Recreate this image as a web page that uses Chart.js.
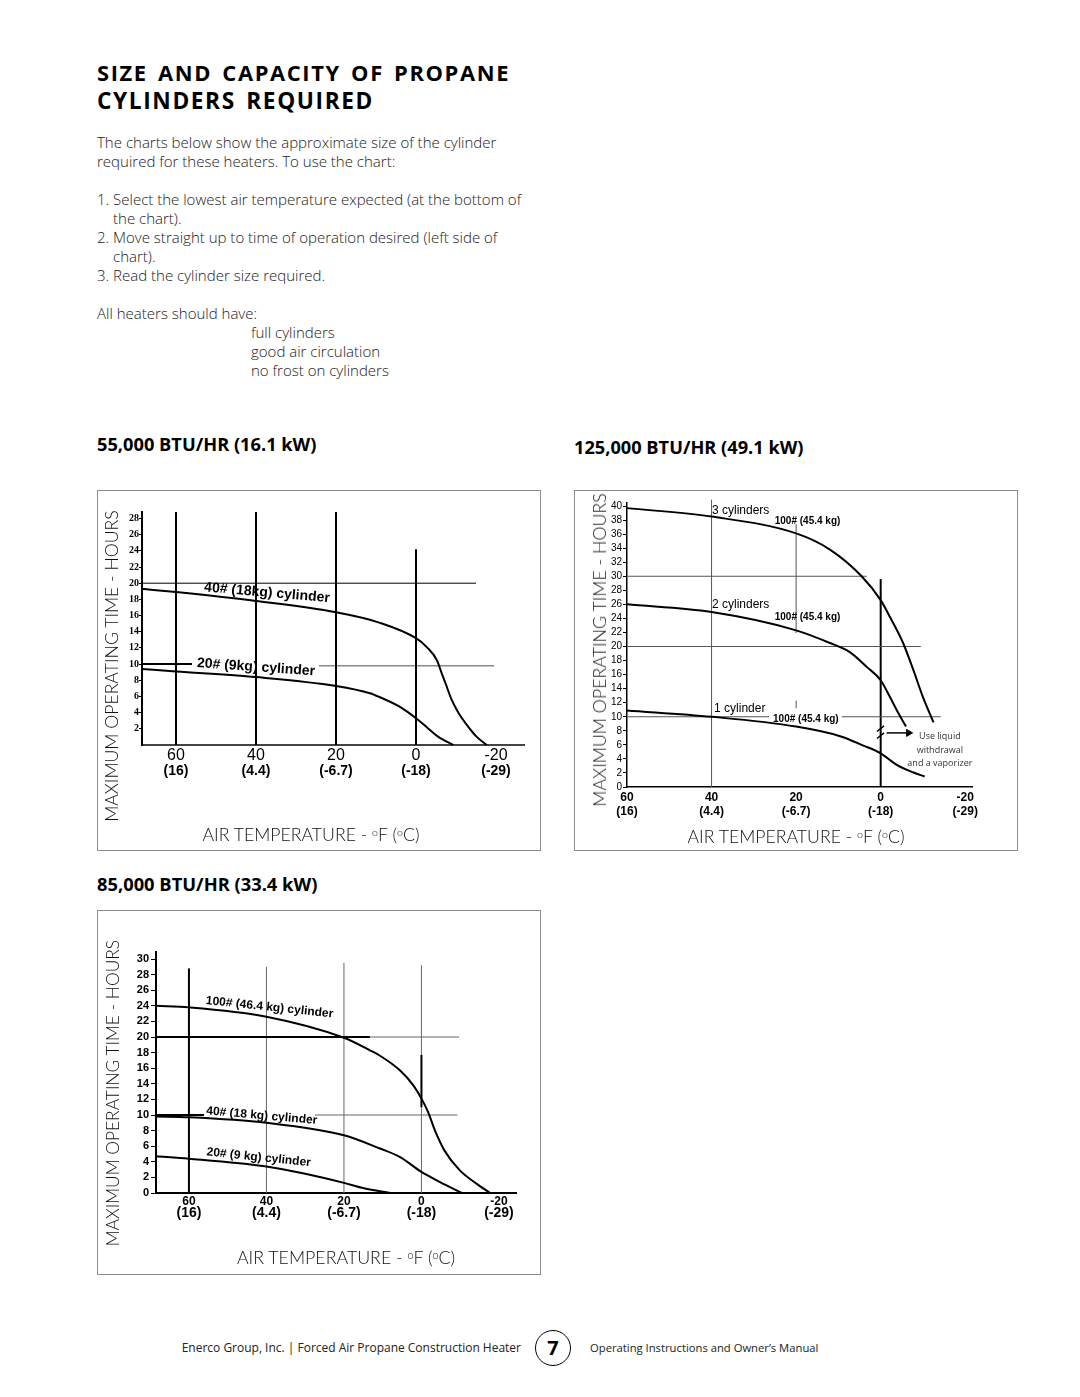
<!DOCTYPE html>
<html><head><meta charset="utf-8">
<script src="https://cdn.jsdelivr.net/npm/chart.js@4.4.1/dist/chart.umd.min.js"></script>
<style>
html,body{margin:0;padding:0;background:#fff;}
body{width:1080px;height:1397px;position:relative;overflow:hidden;font-family:'Open Sans',sans-serif;color:#231f20;}
.t{position:absolute;white-space:nowrap;}
.title{left:97px;font-weight:700;font-size:21px;line-height:28px;letter-spacing:1.6px;word-spacing:3px;color:#000;}
.body{font-size:13px;line-height:19px;font-weight:300;color:#1a1a1a;}
.hdr{font-weight:700;font-size:16px;line-height:22px;color:#000;}
.box{position:absolute;border:1px solid #8c8c8c;box-sizing:border-box;}
.box canvas{position:absolute;left:0;top:0;}
.ytl{position:absolute;font-family:Lato,'Open Sans',sans-serif;font-weight:300;font-size:20px;line-height:24px;white-space:nowrap;color:#111;transform:translate(-50%,-50%) rotate(-90deg);}
.xtl{position:absolute;font-family:Lato,'Open Sans',sans-serif;font-weight:300;font-size:20px;line-height:24px;white-space:nowrap;color:#111;transform:translate(-50%,-50%);}
.xtl sup{font-size:60%;vertical-align:0.5em;line-height:0;}
.foot{font-size:11px;line-height:16px;color:#222;}
.circ{position:absolute;left:535px;top:1330px;width:36px;height:36px;border:1.3px solid #000;border-radius:50%;box-sizing:border-box;text-align:center;font-weight:700;font-size:20px;line-height:34px;color:#000;}
</style></head>
<body>
<div class="t title" style="top:59px" data-fs="416">SIZE AND CAPACITY OF PROPANE</div>
<div class="t title" style="top:87px" data-fs="280">CYLINDERS REQUIRED</div>

<div class="t body" id="bodyRef" style="left:97px;top:133px">The charts below show the approximate size of the cylinder</div>
<div class="t body" style="left:97px;top:152px">required for these heaters. To use the chart:</div>
<div class="t body" style="left:97px;top:190px">1. Select the lowest air temperature expected (at the bottom of</div>
<div class="t body" style="left:113px;top:209px">the chart).</div>
<div class="t body" style="left:97px;top:228px">2. Move straight up to time of operation desired (left side of</div>
<div class="t body" style="left:113px;top:247px">chart).</div>
<div class="t body" style="left:97px;top:266px">3. Read the cylinder size required.</div>
<div class="t body" style="left:97px;top:304px">All heaters should have:</div>
<div class="t body" style="left:251px;top:323px">full cylinders</div>
<div class="t body" style="left:251px;top:342px">good air circulation</div>
<div class="t body" style="left:251px;top:361px">no frost on cylinders</div>

<div class="t hdr" style="left:97px;top:433px" data-fs="220">55,000 BTU/HR (16.1 kW)</div>
<div class="t hdr" style="left:574px;top:436px" data-fs="230">125,000 BTU/HR (49.1 kW)</div>
<div class="t hdr" style="left:97px;top:873px" data-fs="221">85,000 BTU/HR (33.4 kW)</div>

<div class="box" style="left:97px;top:490px;width:444px;height:361px"><canvas id="c1" width="442" height="359"></canvas></div>
<div class="box" style="left:574px;top:490px;width:444px;height:361px"><canvas id="c2" width="442" height="359"></canvas></div>
<div class="box" style="left:97px;top:910px;width:444px;height:365px"><canvas id="c3" width="442" height="363"></canvas></div>

<div class="ytl" style="left:112px;top:666px" data-fs="312">MAXIMUM OPERATING TIME - HOURS</div>
<div class="ytl" style="left:599px;top:650px" data-fs="314">MAXIMUM OPERATING TIME - HOURS</div>
<div class="ytl" style="left:113px;top:1093px" data-fs="307">MAXIMUM OPERATING TIME - HOURS</div>
<div class="xtl" style="left:311px;top:835px" data-fs="217">AIR TEMPERATURE - <sup>o</sup>F (<sup>o</sup>C)</div>
<div class="xtl" style="left:796px;top:837px" data-fs="217">AIR TEMPERATURE - <sup>o</sup>F (<sup>o</sup>C)</div>
<div class="xtl" style="left:346px;top:1257px" data-fs="218">AIR TEMPERATURE - <sup>o</sup>F (<sup>o</sup>C)</div>

<div class="t foot" style="right:559px;top:1340px" data-fs="339">Enerco Group, Inc. | Forced Air Propane Construction Heater</div>
<div class="circ">7</div>
<div class="t foot" style="left:590px;top:1340px" data-fs="228">Operating Instructions and Owner’s Manual</div>

<script>
// ---------- shared axis ticks ----------
const xTicksF = [60, 40, 20, 0, -20];
const xLabelsF = ['60', '40', '20', '0', '-20'];
const xLabelsC = ['(16)', '(4.4)', '(-6.7)', '(-18)', '(-29)'];
const yTicks1 = [2, 4, 6, 8, 10, 12, 14, 16, 18, 20, 22, 24, 26, 28];
const yTicks2 = [0, 2, 4, 6, 8, 10, 12, 14, 16, 18, 20, 22, 24, 26, 28, 30, 32, 34, 36, 38, 40];
const yTicks3 = [0, 2, 4, 6, 8, 10, 12, 14, 16, 18, 20, 22, 24, 26, 28, 30];

// ---------- 55,000 BTU/HR ----------
const c1TempF40 = [68.5, 60, 40, 20, 9, 0, -2.7, -5.2, -6.4, -7.7, -8.9, -10.6, -12.7, -15.2, -17.7];
const c1Hours40 = [19.3, 18.9, 17.8, 16.4, 15.1, 13.2, 12.1, 10.5, 8.9, 7.2, 5.6, 4.0, 2.5, 1.0, 0];
const c1TempF20 = [68.5, 60, 40, 20, 11.5, 9, 4, 0, -2.7, -5.6, -9.3];
const c1Hours20 = [9.4, 9.1, 8.4, 7.3, 6.4, 5.9, 4.7, 3.3, 2.2, 1.0, 0];
const c1GuideDark = [[60, 0, 60, 28.8], [40, 0, 40, 28.8], [20, 0, 20, 28.8], [0, 0, 0, 24.2], [68.5, 10, 56, 10]];
const c1GuideThin = [[68.5, 20, -15, 20]];
const c1GuideGray = [[24.25, 9.8, -19.5, 9.8]];
const c1LabelText = ['40# (18kg) cylinder', '20# (9kg) cylinder'];
const c1LabelF = [37.25, 40];
const c1LabelH = [18.8, 9.6];

// ---------- 125,000 BTU/HR ----------
const c2TempF3 = [60, 40, 20, 12, 4.5, 0, -2.2, -5.3, -7.7, -10, -12.5];
const c2Hours3 = [39.7, 38.5, 36.1, 33.8, 30.0, 26.6, 24.2, 20.5, 16.7, 12.8, 9.2];
const c2TempF2 = [60, 40, 20, 12, 7.3, 3.3, 0, -2.2, -4.1, -6.0];
const c2Hours2 = [26.0, 24.9, 22.3, 20.5, 19.2, 17.1, 15.2, 12.8, 10.6, 8.6];
const c2TempF1 = [60, 40, 20, 9.4, 4.1, 0, -3.7, -7.6, -10.4];
const c2Hours1 = [10.9, 10.0, 8.6, 7.2, 5.9, 4.8, 3.2, 2.1, 1.5];
const c2GuideGray = [[40, 0, 40, 40.9], [20, 21.9, 20, 37.4], [20, 11.2, 20, 12.3], [60, 30, 3.3, 30], [60, 20, -9.5, 20], [60, 10, 26.4, 10], [9.2, 10, -14.2, 10]];
const c2GuideDark = [[0, 0, 0, 29.6]];
const c2Arrow = [[-1.4, 7.7, -6.4, 7.7], [0.9, 7.9, -0.8, 8.7], [0.9, 6.9, -0.8, 7.7]];
const c2ArrowTip = [[-6.6, 7.7]];
const c2LabelText = ['3 cylinders', '2 cylinders', '1 cylinder'];
const c2LabelF = [39.9, 39.9, 39.4];
const c2LabelH = [39.4, 25.9, 11.1];
const c2SizeText = ['100# (45.4 kg)', '100# (45.4 kg)', '100# (45.4 kg)'];
const c2SizeF = [17.3, 17.3, 17.7];
const c2SizeH = [37.9, 24.2, 9.7];
const c2NoteText = ['Use liquid', 'withdrawal', 'and a vaporizer'];
const c2NoteF = [-14.0, -14.0, -14.0];
const c2NoteH = [7.2, 5.2, 3.3];

// ---------- 85,000 BTU/HR ----------
const c3TempF100 = [68.5, 60, 40, 20, 13.3, 10.7, 5.5, 2.1, 0, -1.7, -3.5, -6.0, -9.9, -14.2, -17.7];
const c3Hours100 = [24.0, 23.8, 22.6, 19.9, 18.3, 17.6, 15.7, 13.8, 12.1, 10.4, 8.0, 5.4, 2.9, 1.2, 0];
const c3TempF40 = [68.5, 60, 40, 20, 10.7, 5.5, 0, -4.8, -10.4];
const c3Hours40 = [9.8, 9.7, 9.0, 7.4, 5.7, 4.6, 2.7, 1.4, 0];
const c3TempF20 = [68.5, 60, 40, 30.3, 20, 14.8, 8.1];
const c3Hours20 = [4.7, 4.4, 3.4, 2.5, 1.3, 0.6, 0];
const c3GuideDark = [[60, 0, 60, 28.8], [68.5, 20, 13.3, 20], [68.5, 10, 56.1, 10], [0, 11, 0, 17.7]];
const c3GuideGray = [[40, 0, 40, 29.0], [20, 0, 20, 29.5], [0, 0, 0, 29.2], [13.3, 20, -9.7, 20], [27.5, 10, -9.3, 10]];
const c3LabelText = ['100# (46.4 kg) cylinder', '40# (18 kg) cylinder', '20# (9 kg) cylinder'];
const c3LabelF = [39.2, 41.2, 42];
const c3LabelH = [23.8, 9.9, 4.55];

// ---------- helpers ----------
const pts = (xs, ys) => xs.map((v, i) => ({x: v, y: ys[i]}));
const curve = (xs, ys) => ({data: pts(xs, ys), showLine: true, borderColor: '#000', borderWidth: 2, pointRadius: 0,
  cubicInterpolationMode: 'monotone', clip: false, order: 0});
const segs = (list, color, width) => list.map(s => ({data: [{x: s[0], y: s[1]}, {x: s[2], y: s[3]}], showLine: true,
  borderColor: color, borderWidth: width, pointRadius: 0, tension: 0, clip: false, order: 2}));

const textPlugin = {
  id: 'texts',
  afterDatasetsDraw(chart, args, opts) {
    const {ctx} = chart; const xs = chart.scales.x, ys = chart.scales.y;
    (opts.groups || []).forEach(g => {
      g.text.forEach((t, i) => {
        ctx.save();
        ctx.translate(xs.getPixelForValue(g.f[i]), ys.getPixelForValue(g.h[i]));
        ctx.rotate((g.rot ? g.rot[i] : 0) * Math.PI / 180);
        ctx.font = g.font; ctx.fillStyle = g.color || '#000';
        ctx.textAlign = g.align || 'center'; ctx.textBaseline = 'middle';
        ctx.fillText(t, 0, 0);
        ctx.restore();
      });
    });
  }
};

function makeChart(id, o) {
  const setX = s => { s.ticks = xTicksF.map(v => ({value: v})); };
  return new Chart(document.getElementById(id), {
    type: 'scatter',
    data: {datasets: o.datasets},
    plugins: [textPlugin],
    options: {
      responsive: false, animation: false, events: [],
      layout: {padding: o.pad},
      plugins: {legend: {display: false}, tooltip: {enabled: false}, texts: {groups: o.texts}},
      scales: {
        x: {type: 'linear', reverse: true, min: o.xmin, max: o.xmax, position: 'bottom', weight: 0,
          afterBuildTicks: setX,
          ticks: {callback: (v, i) => xLabelsF[i], font: o.fFont, color: '#000', padding: o.fPad, autoSkip: false, maxRotation: 0},
          grid: {display: false, drawTicks: false},
          border: {display: true, color: o.xBorder, width: o.axisW},
          afterFit: s => { s.height = o.h1; }},
        x2: {type: 'linear', reverse: true, min: o.xmin, max: o.xmax, position: 'bottom', weight: 1,
          afterBuildTicks: setX,
          ticks: {callback: (v, i) => xLabelsC[i], font: o.cFont, color: '#000', padding: 0, autoSkip: false, maxRotation: 0},
          grid: {display: false, drawTicks: false}, border: {display: false},
          afterFit: s => { s.height = o.h2; }},
        y: {type: 'linear', min: 0, max: o.ymax, position: 'left',
          afterBuildTicks: s => { s.ticks = o.yTicks.map(v => ({value: v})); },
          ticks: {font: o.yFont, color: '#000', padding: o.yPad, autoSkip: false},
          grid: {drawOnChartArea: false, drawTicks: true, tickLength: o.tickLen, color: '#000', lineWidth: 1},
          border: {display: true, color: '#000', width: o.axisW},
          afterFit: s => { s.width = o.yw; }}
      }
    }
  });
}

makeChart('c1', {
  xmin: -27, xmax: 68.5, ymax: 28.8, yTicks: yTicks1,
  pad: {left: 0, right: 16, top: 21, bottom: 67}, yw: 44, h1: 18, h2: 20,
  fFont: {family: 'Liberation Sans', size: 16}, fPad: 1,
  cFont: {family: 'Liberation Sans', size: 14, weight: 'bold'},
  yFont: {family: 'Liberation Serif', size: 10, weight: 'bold'}, yPad: 0, tickLen: 3,
  axisW: 2, xBorder: '#444',
  datasets: [curve(c1TempF40, c1Hours40), curve(c1TempF20, c1Hours20),
    ...segs(c1GuideDark, '#000', 2), ...segs(c1GuideThin, '#000', 1), ...segs(c1GuideGray, '#888', 1.5)],
  texts: [{text: c1LabelText, f: c1LabelF, h: c1LabelH, rot: [5, 4], font: 'bold 14px "Liberation Sans"'}]
});

makeChart('c2', {
  xmin: -21.6, xmax: 60, ymax: 40.43, yTicks: yTicks2,
  pad: {left: 0, right: 45, top: 12, bottom: 28}, yw: 52, h1: 17, h2: 18,
  fFont: {family: 'Liberation Sans', size: 12, weight: 'bold'}, fPad: 3,
  cFont: {family: 'Liberation Sans', size: 12, weight: 'bold'},
  yFont: {family: 'Liberation Sans', size: 10}, yPad: 1, tickLen: 4,
  axisW: 1.5, xBorder: '#000',
  datasets: [curve(c2TempF3, c2Hours3), curve(c2TempF2, c2Hours2), curve(c2TempF1, c2Hours1),
    ...segs(c2GuideGray, '#555', 1), ...segs(c2GuideDark, '#000', 2), ...segs(c2Arrow, '#000', 1.5),
    {data: pts(c2ArrowTip.map(p => p[0]), c2ArrowTip.map(p => p[1])), pointStyle: 'triangle', rotation: 90, pointRadius: 4,
      backgroundColor: '#000', borderColor: '#000', clip: false, order: 1}],
  texts: [
    {text: c2LabelText, f: c2LabelF, h: c2LabelH, font: '12px "Liberation Sans"', align: 'left'},
    {text: c2SizeText, f: c2SizeF, h: c2SizeH, font: 'bold 10px "Liberation Sans"'},
    {text: c2NoteText, f: c2NoteF, h: c2NoteH, font: '9px "Open Sans"', color: '#333'}]
});

makeChart('c3', {
  xmin: -24.4, xmax: 68.5, ymax: 30.9, yTicks: yTicks3,
  pad: {left: 0, right: 24, top: 41, bottom: 49}, yw: 58, h1: 12, h2: 20,
  fFont: {family: 'Liberation Sans', size: 12, weight: 'bold'}, fPad: 1,
  cFont: {family: 'Liberation Sans', size: 14, weight: 'bold'},
  yFont: {family: 'Liberation Sans', size: 11, weight: 'bold'}, yPad: 2, tickLen: 5,
  axisW: 2, xBorder: '#000',
  datasets: [curve(c3TempF100, c3Hours100), curve(c3TempF40, c3Hours40), curve(c3TempF20, c3Hours20),
    ...segs(c3GuideDark, '#000', 2), ...segs(c3GuideGray, '#666', 1)],
  texts: [{text: c3LabelText, f: c3LabelF, h: c3LabelH, rot: [6, 5, 6], font: 'bold 12px "Liberation Sans"'}]
});

// fit text widths by font size
function fitSize(el, target) {
  const fs = parseFloat(getComputedStyle(el).fontSize);
  const w = el.offsetWidth;
  const nfs = fs * target / w;
  el.style.fontSize = nfs.toFixed(2) + 'px';
  return nfs;
}
document.querySelectorAll('[data-fs]').forEach(el => fitSize(el, +el.dataset.fs));
const bodySize = fitSize(document.getElementById('bodyRef'), 400);
document.querySelectorAll('.body').forEach(el => { el.style.fontSize = bodySize.toFixed(2) + 'px'; });
</script>
</body></html>
